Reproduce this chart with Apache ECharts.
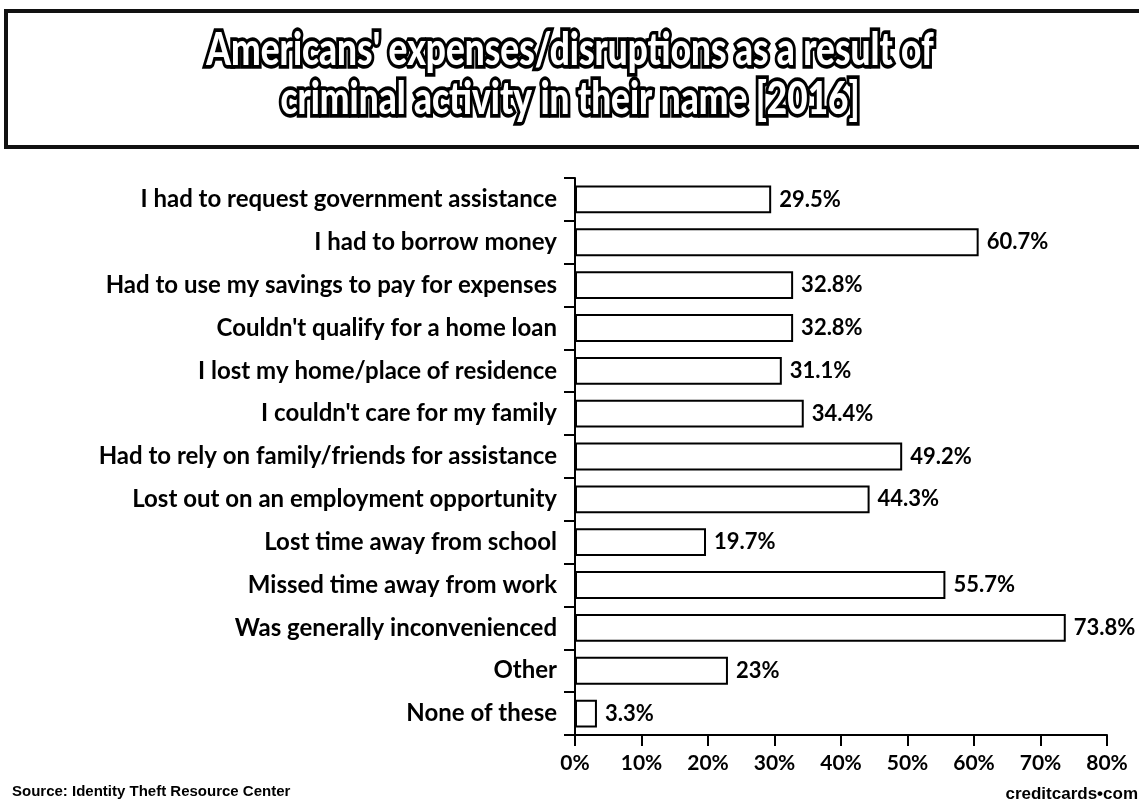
<!DOCTYPE html>
<html><head><meta charset="utf-8">
<script src="https://cdn.jsdelivr.net/npm/echarts@6/dist/echarts.min.js"></script>
<style>html,body{margin:0;padding:0;background:#fff}#c{width:1139px;height:805px}</style>
</head><body><div id="c"></div>
<script>
const categories = [
  "I had to request government assistance",
  "I had to borrow money",
  "Had to use my savings to pay for expenses",
  "Couldn't qualify for a home loan",
  "I lost my home/place of residence",
  "I couldn't care for my family",
  "Had to rely on family/friends for assistance",
  "Lost out on an employment opportunity",
  "Lost time away from school",
  "Missed time away from work",
  "Was generally inconvenienced",
  "Other",
  "None of these"
];
const values = [29.5, 60.7, 32.8, 32.8, 31.1, 34.4, 49.2, 44.3, 19.7, 55.7, 73.8, 23, 3.3];
const xTicks = [0, 10, 20, 30, 40, 50, 60, 70, 80];
const titleLines = ["Americans' expenses/disruptions as a result of", "criminal activity in their name [2016]"];
const sourceText = "Source: Identity Theft Resource Center";
const brandText = "creditcards\u2022com";

const titleStyle = (t) => ({
  text: t, font: '900 44px Lato', fill: '#fff', stroke: '#000', lineWidth: 7,
  strokeFirst: true, align: 'center', verticalAlign: 'top'
});

const chart = echarts.init(document.getElementById('c'));
chart.setOption({
  backgroundColor: '#fff',
  animation: false,
  graphic: [
    { type: 'rect', shape: { x: 6, y: 11, width: 1150, height: 136 },
      style: { fill: 'none', stroke: '#111', lineWidth: 4 }, z: -1 },
    { type: 'text', x: 570, y: 27, scaleX: 0.8, scaleY: 1.04, style: titleStyle(titleLines[0]) },
    { type: 'text', x: 570, y: 76, scaleX: 0.8, scaleY: 1.04, style: titleStyle(titleLines[1]) },
    { type: 'text', left: 12, top: 784,
      style: { text: sourceText, font: 'bold 15px "Liberation Sans"', fill: '#000' } },
    { type: 'text', right: 1, top: 786,
      style: { text: brandText, font: 'bold 17px "Liberation Sans"', fill: '#000' } }
  ],
  grid: { left: 575, right: 32, top: 178, bottom: 70 },
  xAxis: {
    type: 'value', min: 0, max: 80, interval: 10,
    axisLine: { show: true, lineStyle: { color: '#000', width: 2 } },
    axisTick: { show: true, length: 11, lineStyle: { color: '#000', width: 2 } },
    splitLine: { show: false },
    axisLabel: { formatter: v => xTicks.includes(v) ? v + '%' : '', color: '#000',
      fontFamily: 'Lato', fontWeight: 'bold', fontSize: 21, margin: 18 }
  },
  yAxis: {
    type: 'category', data: categories, inverse: true,
    axisLine: { show: true, lineStyle: { color: '#000', width: 2 } },
    axisTick: { show: true, length: 11, lineStyle: { color: '#000', width: 2 } },
    axisLabel: { color: '#000', fontFamily: 'Lato', fontWeight: 'bold', fontSize: 24, margin: 18 }
  },
  series: [{
    type: 'bar', data: values, barCategoryGap: '35%',
    itemStyle: { color: '#fff', borderColor: '#000', borderWidth: 2 },
    label: { show: true, position: 'right', distance: 8, formatter: p => p.value + '%',
      color: '#000', fontFamily: 'Lato', fontWeight: 'bold', fontSize: 22 }
  }]
});
</script></body></html>
